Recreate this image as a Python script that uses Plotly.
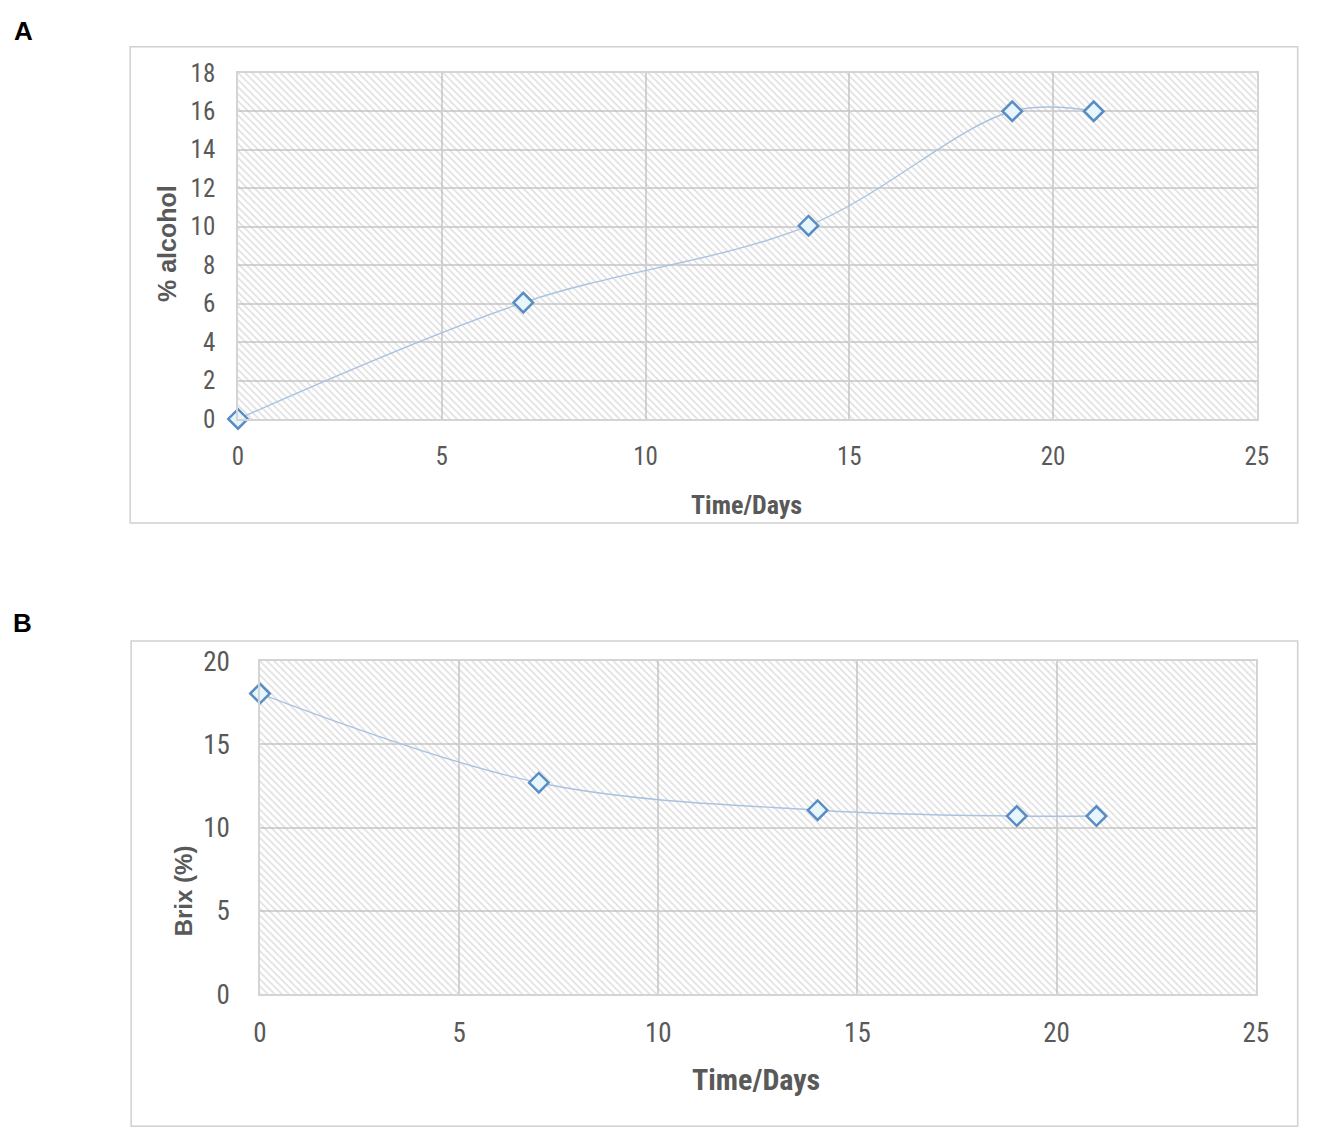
import plotly.graph_objects as go

days = [0, 7, 14, 19, 21]
alcohol = [0, 6.05, 10.05, 16, 16]
brix = [18.05, 12.7, 11.05, 10.7, 10.7]

x_range = [0, 25]
alc_range = [0, 18]
brix_range = [0, 20]

# page has 8px body margin
M = 8
W, H = 1312, 1145
SX, OX, SY, OY = 0.986, -2.2, 0.977, 4.2
def px(r): return ((r - OX) / SX - M) / W
def py(r):
    r = (r - 3.3) / 0.9944
    return 1 - ((r - OY) / SY - M) / H

fig = go.Figure()

grid = "#d4d4d4"
fam = "Liberation Sans Narrow, Arial Narrow, Roboto Condensed, sans-serif"
wide = "Liberation Sans, Arial, sans-serif"
tcol = "#595959"

# hatched backgrounds
for xa, ya, yr in [("x", "y", alc_range), ("x2", "y2", brix_range)]:
    fig.add_trace(go.Scatter(
        x=[x_range[0], x_range[1], x_range[1], x_range[0], x_range[0]],
        y=[yr[0], yr[0], yr[1], yr[1], yr[0]],
        xaxis=xa, yaxis=ya, mode="none", fill="toself", fillcolor="rgba(0,0,0,0)",
        fillpattern=dict(shape="\\", fgcolor="#bdbdbd", bgcolor="rgba(0,0,0,0)", size=5, solidity=0.3),
        hoverinfo="skip", showlegend=False))

marker = dict(symbol="diamond", size=15, color="#e6f6fc", line=dict(color="#5a8cc4", width=2.5))
line = dict(color="#a9c3df", width=1.4, shape="spline", smoothing=1.0)

fig.add_trace(go.Scatter(x=days, y=alcohol, mode="lines+markers", line=line, marker=marker,
                         xaxis="x", yaxis="y", showlegend=False, cliponaxis=False))
fig.add_trace(go.Scatter(x=days, y=brix, mode="lines+markers", line=line, marker=marker,
                         xaxis="x2", yaxis="y2", showlegend=False, cliponaxis=False))

axis_common = dict(showgrid=True, gridcolor=grid, gridwidth=1.5, zeroline=False,
                   showline=True, linecolor=grid, linewidth=1.5, mirror=True, ticks="")

fig.update_layout(
    width=W, height=H, margin=dict(l=0, r=0, t=0, b=0),
    paper_bgcolor="white", plot_bgcolor="white",
    xaxis=dict(domain=[px(237), px(1257)], range=x_range, dtick=5, anchor="y",
               ticklabelstandoff=14, tickfont=dict(family=fam, size=25, color=tcol), **axis_common),
    yaxis=dict(domain=[py(418), py(72)], range=alc_range, dtick=2, anchor="x",
               ticklabelstandoff=16, tickfont=dict(family=fam, size=25, color=tcol), **axis_common),
    xaxis2=dict(domain=[px(259), px(1256)], range=x_range, dtick=5, anchor="y2",
                ticklabelstandoff=14, tickfont=dict(family=fam, size=27, color=tcol), **axis_common),
    yaxis2=dict(domain=[py(993), py(660)], range=brix_range, dtick=5, anchor="x2",
                ticklabelstandoff=23, tickfont=dict(family=fam, size=27, color=tcol), **axis_common),
)

# outer frames
fig.add_shape(type="rect", xref="paper", yref="paper", x0=px(129), x1=px(1298), y0=py(522), y1=py(46),
              line=dict(color="#d0d0d0", width=1.5), fillcolor="rgba(0,0,0,0)", layer="below")
fig.add_shape(type="rect", xref="paper", yref="paper", x0=px(130), x1=px(1298), y0=py(1125), y1=py(640),
              line=dict(color="#d0d0d0", width=1.5), fillcolor="rgba(0,0,0,0)", layer="below")

ann = []
ann.append(dict(text="<b>Time/Days</b>", x=px(746), y=py(504), xref="paper", yref="paper",
                showarrow=False, font=dict(family=fam, size=26, color=tcol), xanchor="center", yanchor="middle"))
ann.append(dict(text="<b>Time/Days</b>", x=px(756), y=py(1078), xref="paper", yref="paper",
                showarrow=False, font=dict(family=fam, size=30, color=tcol), xanchor="center", yanchor="middle"))
ann.append(dict(text="<b>% alcohol</b>", x=px(166), y=py(243), xref="paper", yref="paper",
                showarrow=False, font=dict(family=wide, size=25, color=tcol), textangle=-90,
                xanchor="center", yanchor="middle"))
ann.append(dict(text="<b>Brix (%)</b>", x=px(182), y=py(890), xref="paper", yref="paper",
                showarrow=False, font=dict(family=wide, size=24, color=tcol), textangle=-90,
                xanchor="center", yanchor="middle"))
ann.append(dict(text="<b>A</b>", x=px(22), y=py(30), xref="paper", yref="paper", showarrow=False,
                font=dict(family=wide, size=26, color="black"), xanchor="center", yanchor="middle"))
ann.append(dict(text="<b>B</b>", x=px(21), y=py(622), xref="paper", yref="paper", showarrow=False,
                font=dict(family=wide, size=26, color="black"), xanchor="center", yanchor="middle"))
fig.update_layout(annotations=ann)

fig.write_html("out.html")
